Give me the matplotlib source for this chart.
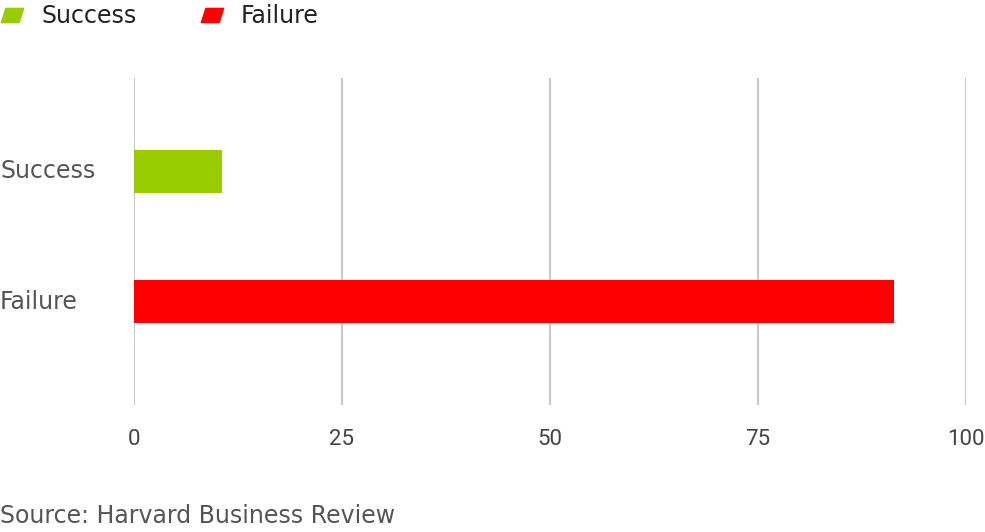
import matplotlib
matplotlib.use("Agg")
import matplotlib.pyplot as plt
import matplotlib.transforms as mtransforms
from matplotlib.lines import Line2D
from matplotlib.path import Path

# data
categories = ["Success", "Failure"]
values = [10.6, 91.4]
bar_colors = ["#99cc00", "#ff0000"]
x_ticks = [0, 25, 50, 75, 100]

label_font = "DejaVu Sans"
tick_font = "Roboto"

fig = plt.figure(figsize=(9.85, 5.32), dpi=100)
ax = fig.add_axes([134 / 985, 1 - 405 / 532, 832 / 985, 327 / 532])

ypos = list(range(len(categories)))
ax.barh(ypos, values, height=0.33, color=bar_colors, zorder=3)

ax.set_xlim(0, 100)
ax.set_ylim(1.796, -0.719)
ax.set_xticks(x_ticks)
ax.set_xticklabels([str(t) for t in x_ticks], fontsize=16, family=tick_font, color="#444444")
ax.set_yticks([])
ax.tick_params(axis="both", length=0)
ax.tick_params(axis="x", pad=17.5)
ax.grid(axis="x", color="#c8c8c8", linewidth=1.5, zorder=0)
for s in ax.spines.values():
    s.set_visible(False)

# category labels flush with the left edge of the figure
trans = mtransforms.blended_transform_factory(fig.transFigure, ax.transData)
for y, name in zip(ypos, categories):
    ax.text(0, y, name, transform=trans, ha="left", va="center",
            fontsize=17, family=label_font, color="#555555")

# legend with slanted swatches
para = Path([(-0.5, -0.32), (0.3, -0.32), (0.5, 0.32), (-0.3, 0.32), (-0.5, -0.32)],
            [Path.MOVETO, Path.LINETO, Path.LINETO, Path.LINETO, Path.CLOSEPOLY])
handles = [Line2D([], [], linestyle="none", marker=para, markersize=16,
                  markerfacecolor=c, markeredgecolor=c) for c in bar_colors]
fig.legend(handles, categories, loc="upper left", bbox_to_anchor=(0, 0.997),
           ncol=2, frameon=False, borderpad=0.1, borderaxespad=0,
           handlelength=0.85, columnspacing=2.75, handletextpad=0.8,
           prop={"family": label_font, "size": 17}, labelcolor="#222222")

fig.text(0, 1 - 516 / 532, "Source: Harvard Business Review", va="center", ha="left",
         fontsize=17, family=label_font, color="#555555")

fig.savefig("out.png", dpi=100)
